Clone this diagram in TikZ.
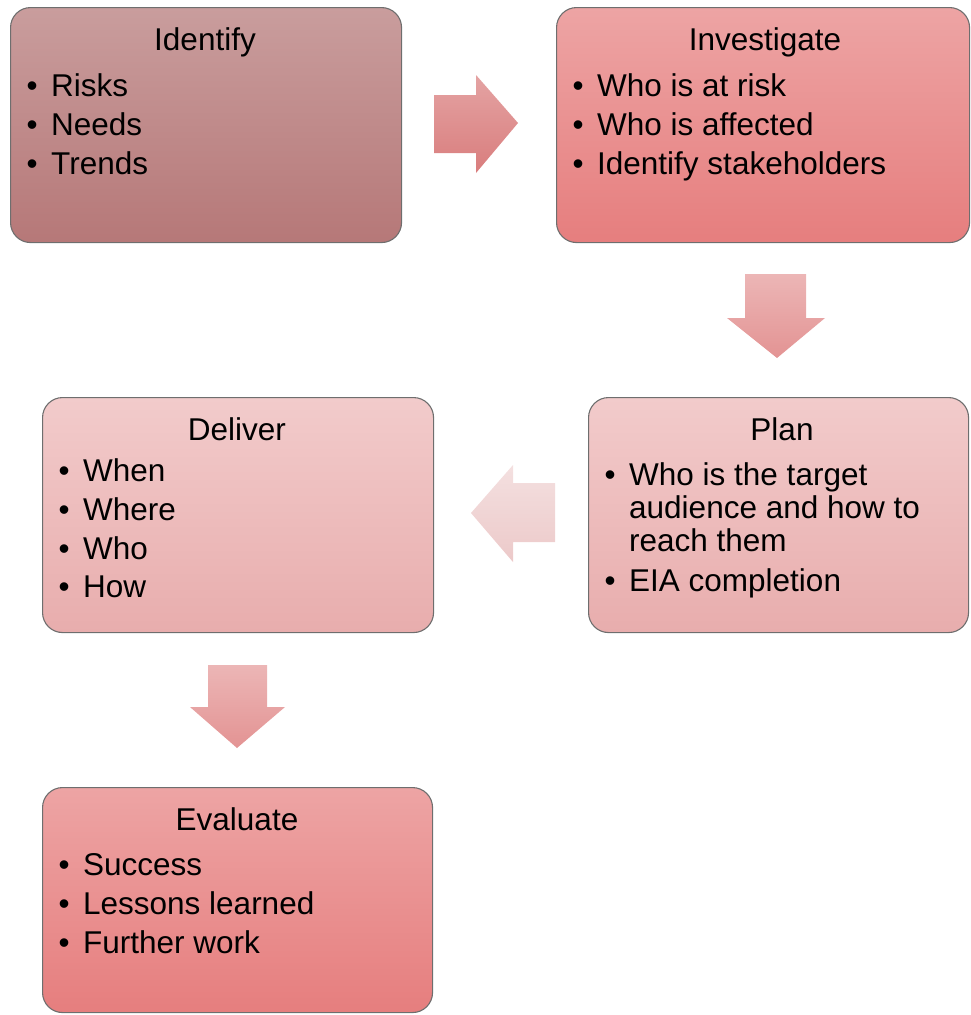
\documentclass[tikz,border=0pt]{standalone}
\usepackage{fontspec}
\setmainfont{Liberation Sans}
\definecolor{boxline}{HTML}{6E6E6E}
\definecolor{idtop}{HTML}{C99D9D}
\definecolor{idbot}{HTML}{B67878}
\definecolor{redtop}{HTML}{EDA4A4}
\definecolor{redbot}{HTML}{E67E7E}
\definecolor{pinktop}{HTML}{F2CBCB}
\definecolor{pinkbot}{HTML}{E8ADAD}
\definecolor{arRtop}{HTML}{E4A3A3}
\definecolor{arRbot}{HTML}{D97D7D}
\definecolor{arDtop}{HTML}{ECB6B6}
\definecolor{arDbot}{HTML}{E39393}
\definecolor{arLtop}{HTML}{F4E0E0}
\definecolor{arLbot}{HTML}{ECC9C9}
\newcommand\bul{\makebox[24.5pt][l]{•}}
\begin{document}
\begin{tikzpicture}[x=1pt,y=-1pt,
  box/.style={draw=boxline, line width=1.1pt, rounded corners=20pt, inner sep=0pt,
              anchor=north west, minimum width=#1, minimum height=235pt},
  ttl/.style={anchor=base, font=\fontsize{31.5}{33}\selectfont, inner sep=0pt},
  itm/.style={anchor=base west, font=\fontsize{31.5}{33}\selectfont, inner sep=0pt},
  blockarrow/.style={draw=none}]
\useasboundingbox (0,0) rectangle (970,1015);

% Boxes
\node[box=391pt, top color=idtop, bottom color=idbot] (identify) at (10,7) {};
\node[box=413pt, top color=redtop, bottom color=redbot] (investigate) at (556,7) {};
\node[box=380pt, top color=pinktop, bottom color=pinkbot] (plan) at (588,397) {};
\node[box=391pt, top color=pinktop, bottom color=pinkbot] (deliver) at (42,397) {};
\node[box=390pt, minimum height=225pt, top color=redtop, bottom color=redbot] (evaluate) at (42,787) {};

% Identify
\node[ttl] (idt) at (205,50) {Identify};
\node[itm] (id1) at (26.5,96) {\bul Risks};
\node[itm] (id2) at (26.5,135) {\bul Needs};
\node[itm] (id3) at (26.5,174) {\bul Trends};

% Investigate
\node[ttl] (ivt) at (765,50) {Investigate};
\node[itm] (iv1) at (572.5,96) {\bul Who is at risk};
\node[itm] (iv2) at (572.5,135) {\bul Who is affected};
\node[itm] (iv3) at (572.5,174) {\bul Identify stakeholders};

% Plan
\node[ttl] (plt) at (782,440) {Plan};
\node[itm] (pl1) at (604.5,485) {\bul Who is the target};
\node[itm] (pl1b) at (629,518) {audience and how to};
\node[itm] (pl1c) at (629,551) {reach them};
\node[itm] (pl2) at (604.5,591) {\bul EIA completion};

% Deliver
\node[ttl] (dlt) at (237,440) {Deliver};
\node[itm] (dl1) at (58.5,481) {\bul When};
\node[itm] (dl2) at (58.5,520) {\bul Where};
\node[itm] (dl3) at (58.5,559) {\bul Who};
\node[itm] (dl4) at (58.5,597) {\bul How};

% Evaluate
\node[ttl] (evt) at (237,830) {Evaluate};
\node[itm] (ev1) at (58.5,875) {\bul Success};
\node[itm] (ev2) at (58.5,914) {\bul Lessons learned};
\node[itm] (ev3) at (58.5,953) {\bul Further work};

% Block arrows
\path[blockarrow, top color=arRtop, bottom color=arRbot]
  (434,95) -- (476,95) -- (476,75) -- (518,123) -- (476,173) -- (476,153) -- (434,153) -- cycle;
\path[blockarrow, top color=arDtop, bottom color=arDbot]
  (745,274) -- (806,274) -- (806,318) -- (825,318) -- (777,358) -- (727,318) -- (745,318) -- cycle;
\path[blockarrow, top color=arLtop, bottom color=arLbot]
  (555,483) -- (513,483) -- (513,465) -- (471,513) -- (513,562) -- (513,542) -- (555,542) -- cycle;
\path[blockarrow, top color=arDtop, bottom color=arDbot]
  (208,665) -- (267,665) -- (267,707) -- (285,707) -- (237,748) -- (190,707) -- (208,707) -- cycle;
\end{tikzpicture}
\end{document}
